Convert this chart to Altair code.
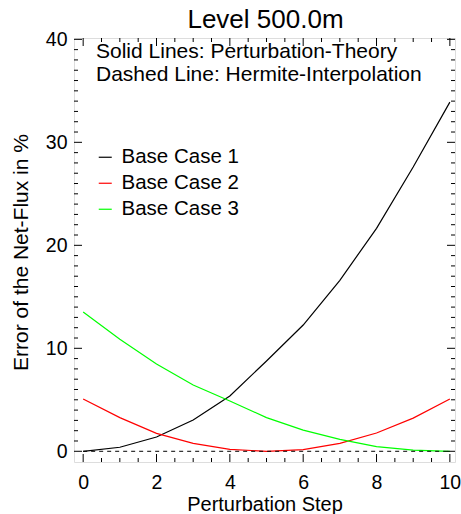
import altair as alt
import pandas as pd

FONT = "Liberation Sans"

steps = [0, 1, 2, 3, 4, 5, 6, 7, 8, 9, 10]
case1 = [0.0, 0.39, 1.39, 3.04, 5.37, 8.77, 12.26, 16.6, 21.65, 27.6, 33.9]
case2 = [5.07, 3.27, 1.74, 0.77, 0.19, 0.0, 0.17, 0.77, 1.78, 3.22, 5.07]
case3 = [13.52, 10.87, 8.47, 6.44, 4.88, 3.27, 2.06, 1.15, 0.45, 0.12, 0.0]
case_names = ["Base Case 1", "Base Case 2", "Base Case 3"]
case_colors = ["#000000", "#ff0000", "#00ff00"]

x_major = [0, 2, 4, 6, 8, 10]
x_minor = [0.5, 1, 1.5, 2.5, 3, 3.5, 4.5, 5, 5.5, 6.5, 7, 7.5, 8.5, 9, 9.5]
y_major = [0, 10, 20, 30, 40]
y_minor = [1, 2, 3, 4, 5, 6, 7, 8, 9, 11, 12, 13, 14, 15, 16, 17, 18, 19,
           21, 22, 23, 24, 25, 26, 27, 28, 29, 31, 32, 33, 34, 35, 36, 37, 38, 39]

notes = ["Solid Lines: Perturbation-Theory", "Dashed Line: Hermite-Interpolation"]
title_text = "Level 500.0m"
x_title = "Perturbation Step"
y_title = "Error of the Net-Flux in %"
ref_line = {"step": [0], "step_end": [10], "err": [0]}

W, H = 381, 424

rows = []
for name, vals in zip(case_names, [case1, case2, case3]):
    for s, v in zip(steps, vals):
        rows.append({"step": s, "err": v, "case": name})
df = pd.DataFrame(rows)

xs = alt.Scale(domain=[-0.25, 10.14], nice=False, zero=False)
ys = alt.Scale(domain=[-1.04, 40.13], nice=False, zero=False)

x_axis = alt.Axis(
    values=x_major, format="d", labelPadding=11,
    title=x_title, titleFontSize=20, titleY=48, titleBaseline="alphabetic")
y_axis = alt.Axis(
    values=y_major, format="d", labelPadding=7,
    title=y_title, titleFontSize=21, titleX=-47, titleY=214,
    titleBaseline="alphabetic", titleAngle=270, titleAlign="center")

lines = alt.Chart(df).mark_line(strokeWidth=1.2, clip=True).encode(
    x=alt.X("step:Q", scale=xs, axis=x_axis),
    y=alt.Y("err:Q", scale=ys, axis=y_axis),
    color=alt.Color("case:N", scale=alt.Scale(domain=case_names, range=case_colors),
                    legend=alt.Legend(
                        orient="none", legendX=21, legendY=109, title=None,
                        symbolType="stroke", symbolSize=169, symbolStrokeWidth=1.2,
                        labelFont=FONT, labelFontSize=20.5, labelColor="black",
                        labelOffset=6, rowPadding=5, padding=0)),
)

zero = alt.Chart(pd.DataFrame(ref_line)).mark_rule(
    color="black", strokeWidth=1, strokeDash=[4, 4]).encode(
    x=alt.X("step:Q", scale=xs, axis=x_axis), x2="step_end:Q",
    y=alt.Y("err:Q", scale=ys, axis=y_axis))


def xticks(vals, length):
    d = pd.DataFrame({"step": vals})
    b = alt.Chart(d).mark_rule(color="black", strokeWidth=1).encode(
        x=alt.X("step:Q", scale=xs, axis=x_axis), y=alt.value(H), y2=alt.value(H - length))
    t = alt.Chart(d).mark_rule(color="black", strokeWidth=1).encode(
        x=alt.X("step:Q", scale=xs, axis=x_axis), y=alt.value(0), y2=alt.value(length))
    return [b, t]


def yticks(vals, length):
    d = pd.DataFrame({"err": vals})
    l = alt.Chart(d).mark_rule(color="black", strokeWidth=1).encode(
        y=alt.Y("err:Q", scale=ys, axis=y_axis), x=alt.value(0), x2=alt.value(length))
    r = alt.Chart(d).mark_rule(color="black", strokeWidth=1).encode(
        y=alt.Y("err:Q", scale=ys, axis=y_axis), x=alt.value(W), x2=alt.value(W - length))
    return [l, r]


note_layers = []
for i, txt in enumerate(notes):
    note_layers.append(
        alt.Chart(pd.DataFrame({"t": [txt]})).mark_text(
            align="left", baseline="alphabetic", font=FONT, fontSize=21, color="black"
        ).encode(text="t:N", x=alt.value(22), y=alt.value(20 + i * 23.3)))

title_layer = alt.Chart(pd.DataFrame({"t": [title_text]})).mark_text(
    align="center", baseline="alphabetic", font=FONT, fontSize=26, color="black"
).encode(text="t:N", x=alt.value(W / 2 + 1), y=alt.value(-10))

layers = ([lines, zero] + xticks(x_major, 8) + xticks(x_minor, 4)
          + yticks(y_major, 8) + yticks(y_minor, 4) + note_layers + [title_layer])

chart = alt.layer(*layers).properties(
    width=W, height=H,
    autosize=alt.AutoSizeParams(type="none"),
    padding={"left": 74, "top": 38, "right": 6, "bottom": 52},
).configure_view(stroke="black", strokeWidth=1).configure(
    background="white"
).configure_axis(
    ticks=False, domain=False, grid=False,
    labelFont=FONT, labelFontSize=19.5, labelColor="black",
    titleFont=FONT, titleFontWeight="normal", titleColor="black",
)

chart.save("out.html", embed_options={"renderer": "svg", "actions": False})
